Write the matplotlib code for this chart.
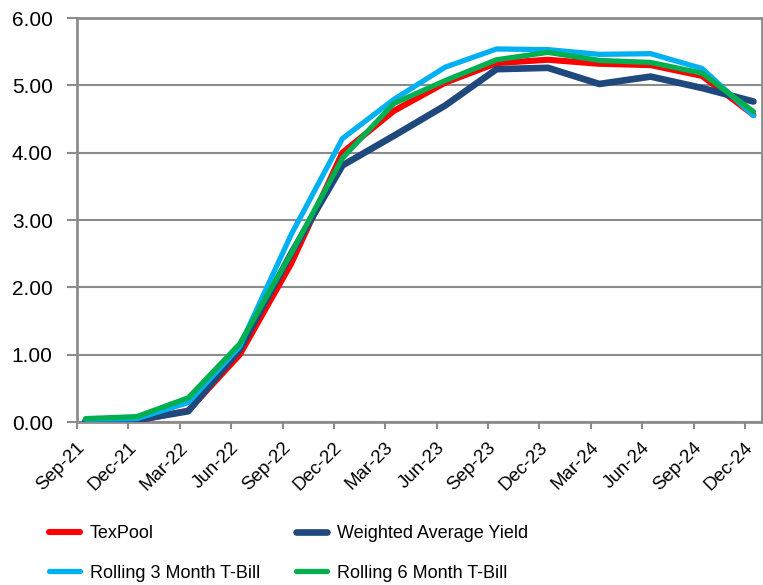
import matplotlib
matplotlib.use("Agg")
import matplotlib.pyplot as plt
import matplotlib.transforms as mtransforms
from matplotlib import font_manager
import numpy as np

plt.rcParams['font.family'] = ['Liberation Sans', 'DejaVu Sans']

# quarter-end labels, Sep-21 .. Dec-24
quarters = ["Sep-21", "Dec-21", "Mar-22", "Jun-22", "Sep-22", "Dec-22", "Mar-23",
            "Jun-23", "Sep-23", "Dec-23", "Mar-24", "Jun-24", "Sep-24", "Dec-24"]

texpool = [0.01, 0.02, 0.17, 1.00, 2.35, 4.00, 4.62, 5.04, 5.33, 5.38, 5.32, 5.30, 5.14, 4.56]
wtd_avg = [0.02, 0.03, 0.16, 1.08, 2.50, 3.81, 4.25, 4.70, 5.24, 5.26, 5.02, 5.13, 4.96, 4.76]
tbill_3m = [0.04, 0.05, 0.29, 1.12, 2.78, 4.21, 4.79, 5.27, 5.54, 5.53, 5.46, 5.47, 5.25, 4.55]
tbill_6m = [0.05, 0.08, 0.36, 1.16, 2.50, 3.92, 4.73, 5.07, 5.38, 5.49, 5.37, 5.34, 5.18, 4.61]

# monthly date axis, one point every 3 months
x = np.arange(len(quarters)) * 3

fig = plt.figure(figsize=(7.63, 5.85), dpi=100)
ax = fig.add_axes([77 / 763, 1 - 422 / 585, 685 / 763, 404 / 585])

grey = "#8c8c8c"
ax.plot(x, texpool, color="#ff0000", lw=4.4, solid_capstyle="round", solid_joinstyle="round",
        label="TexPool", zorder=3)
ax.plot(x, wtd_avg, color="#1f497d", lw=4.8, solid_capstyle="round", solid_joinstyle="round",
        label="Weighted Average Yield", zorder=4)
ax.plot(x, tbill_3m, color="#00b0f0", lw=3.8, solid_capstyle="round", solid_joinstyle="round",
        label="Rolling 3 Month T-Bill", zorder=5)
ax.plot(x, tbill_6m, color="#00b050", lw=3.8, solid_capstyle="round", solid_joinstyle="round",
        label="Rolling 6 Month T-Bill", zorder=6)

ax.set_xlim(-0.5, 39.5)
ax.set_ylim(0, 6)
ax.set_yticks(np.arange(0, 7, 1))
ax.set_yticklabels(["%.2f" % v for v in np.arange(0, 7, 1)], fontsize=15)
ax.grid(axis="y", color=grey, lw=1.5, zorder=1)
ax.set_axisbelow(True)

ax.set_xticks(x)
ax.set_xticklabels(quarters, fontsize=13.5, rotation=45, ha="right", va="baseline",
                   rotation_mode="anchor")
shift = mtransforms.ScaledTranslation(3 / 100, 0, fig.dpi_scale_trans)
for lab in ax.get_xticklabels():
    lab.set_transform(lab.get_transform() + shift)
ax.set_xticks(np.arange(-0.5, 39, 3), minor=True)
ax.tick_params(axis="x", which="major", length=0, pad=19)
ax.tick_params(axis="x", which="minor", length=5, width=1.5, color=grey)
ax.tick_params(axis="y", length=7, width=1.5, color=grey, pad=10.5)

for s in ax.spines.values():
    s.set_color(grey)
    s.set_linewidth(2)

# legend text in the reference is a narrow face
names = {f.name for f in font_manager.fontManager.ttflist}
if "Liberation Sans Narrow" in names:
    leg_font = {"family": "Liberation Sans Narrow", "size": 14}
else:
    leg_font = {"family": "Liberation Sans", "size": 13}

h, l = ax.get_legend_handles_labels()
leg_kw = dict(frameon=False, prop=leg_font, handlelength=1.6 * 14 / leg_font["size"],
              handletextpad=0.5 * 14 / leg_font["size"],
              labelspacing=1.25 * 13 / leg_font["size"], borderpad=0, borderaxespad=0,
              loc="upper left")
fig.legend([h[0], h[2]], [l[0], l[2]], bbox_to_anchor=(49 / 763, 1 - 525 / 585), **leg_kw)
fig.legend([h[1], h[3]], [l[1], l[3]], bbox_to_anchor=(296 / 763, 1 - 525 / 585), **leg_kw)

fig.savefig("out.png", dpi=100)
